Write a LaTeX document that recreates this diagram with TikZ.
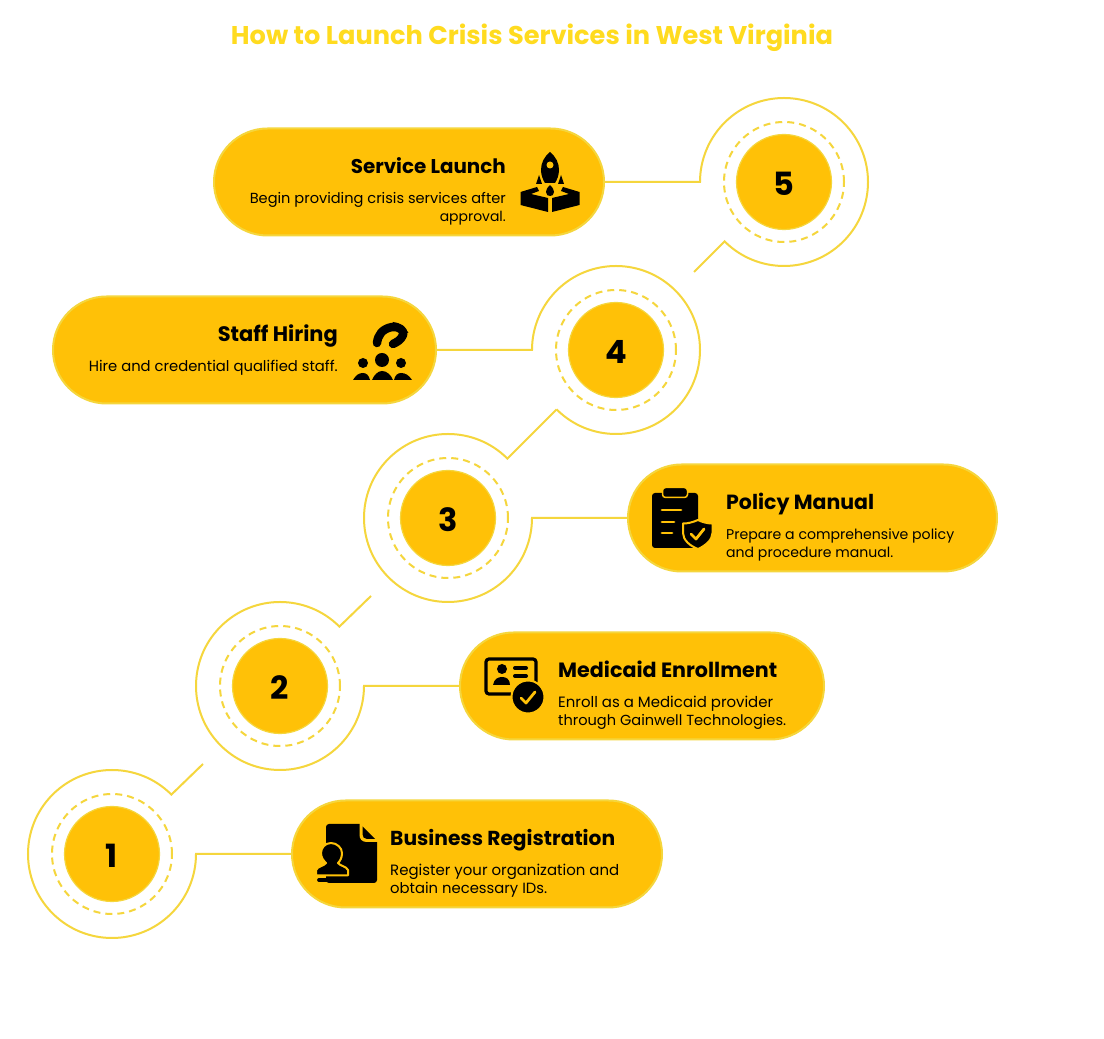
\documentclass[tikz,border=0pt]{standalone}
\usepackage{fontspec}
\usepackage{graphicx}
\setmainfont{Poppins}
\usetikzlibrary{calc}
\definecolor{amber}{HTML}{FFC107}
\definecolor{edge}{HTML}{F5D63D}
\definecolor{titlecol}{HTML}{FFDB1F}
\newcommand{\fitw}[2]{\resizebox{#1pt}{!}{#2}}
\newcommand{\hd}[2]{\fitw{#1}{\fontsize{18}{20}\selectfont\bfseries #2}}
\newcommand{\ds}[2]{\fitw{#1}{\fontsize{14}{16}\selectfont #2}}
\tikzset{
  x=1pt,y=1pt,
  pill/.style={draw=edge,line width=2pt,fill=amber,rounded corners=53.5pt,minimum height=107pt,inner sep=0pt},
  numdot/.style={circle,draw=edge,line width=1.2pt,fill=amber,minimum size=95pt,inner sep=0pt,text height=27pt,text depth=0pt,font=\fontsize{32}{34}\selectfont\bfseries},
  ring/.style={draw=edge,line width=2pt},
  dashring/.style={draw=edge,line width=2pt,dash pattern=on 7pt off 5pt},
  txt/.style={inner sep=0pt,text=black},
  icon/.style={x=1pt,y=-1pt,yshift=1039pt},
  ink/.style={fill=black,draw=none}
}
\begin{document}
\begin{tikzpicture}
\useasboundingbox (0,0) rectangle (1104,1039);
\fill[white] (0,0) rectangle (1104,1039);
\node[txt,text=titlecol,anchor=base] (title) at (532,994) {\fitw{602}{\fontsize{24}{26}\selectfont\bfseries How to Launch Crisis Services in West Virginia}};

% pills
\node[pill,minimum width=390pt] (p5) at (409,857) {};
\node[pill,minimum width=383pt] (p4) at (244.5,689) {};
\node[pill,minimum width=369pt] (p3) at (812.5,521) {};
\node[pill,minimum width=364pt] (p2) at (642,353) {};
\node[pill,minimum width=370pt] (p1) at (477,185) {};

% number circles
\node[numdot] (c1) at (112,185) {1};
\node[numdot] (c2) at (280,353) {2};
\node[numdot] (c3) at (448,521) {3};
\node[numdot] (c4) at (616,689) {4};
\node[numdot] (c5) at (784,857) {5};
\foreach \n in {1,...,5} \draw[dashring] (c\n) circle[radius=60pt];

% free ends of the diagonals
\coordinate (e1) at (203,275);
\coordinate (e2) at (371,443);
\coordinate (e5) at (694,767);

% rings and connectors
\draw[ring] (e1) -- ($(c1)+(45:84pt)$) arc[start angle=45,end angle=360,radius=84pt] -- (p1.west);
\draw[ring] (e2) -- ($(c2)+(45:84pt)$) arc[start angle=45,end angle=360,radius=84pt] -- (p2.west);
\draw[ring] ($(c4)+(225:84pt)$) -- ($(c3)+(45:84pt)$) arc[start angle=45,end angle=360,radius=84pt] -- (p3.west);
\draw[ring] ($(c4)+(225:84pt)$) arc[start angle=225,end angle=540,radius=84pt] -- (p4.east);
\draw[ring] (e5) -- ($(c5)+(225:84pt)$) arc[start angle=225,end angle=540,radius=84pt] -- (p5.east);

% texts
\node[txt,anchor=base east] (h5) at (506,865) {\hd{155}{Service Launch}};
\node[txt,anchor=base east] (d5a) at (506,835) {\ds{256}{Begin providing crisis services after}};
\node[txt,anchor=base east] (d5b) at (506,817) {\ds{66}{approval.}};
\node[txt,anchor=base east] (h4) at (338,697) {\hd{120}{Staff Hiring}};
\node[txt,anchor=base east] (d4) at (338,667) {\ds{249}{Hire and credential qualified staff.}};
\node[txt,anchor=base west] (h3) at (726,529) {\hd{148}{Policy Manual}};
\node[txt,anchor=base west] (d3a) at (726,499) {\ds{228}{Prepare a comprehensive policy}};
\node[txt,anchor=base west] (d3b) at (726,481) {\ds{167}{and procedure manual.}};
\node[txt,anchor=base west] (h2) at (558,361) {\hd{219}{Medicaid Enrollment}};
\node[txt,anchor=base west] (d2a) at (558,331) {\ds{215}{Enroll as a Medicaid provider}};
\node[txt,anchor=base west] (d2b) at (558,313) {\ds{228}{through Gainwell Technologies.}};
\node[txt,anchor=base west] (h1) at (390,193) {\hd{225}{Business Registration}};
\node[txt,anchor=base west] (d1a) at (390,163) {\ds{229}{Register your organization and}};
\node[txt,anchor=base west] (d1b) at (390,145) {\ds{157}{obtain necessary IDs.}};

% icons, in reference pixels
\begin{scope}[icon]
% rocket
\fill[ink] (550,152) .. controls (544,157) and (541,163) .. (541,170) .. controls (541,175) and (543,180) .. (545,183) -- (555,183) .. controls (557,180) and (559,175) .. (559,170) .. controls (559,163) and (556,157) .. (550,152) -- cycle;
\fill[amber] (550,165) circle[radius=3.5pt];
\fill[ink] (536,184) -- (539,175) -- (542,184) -- cycle;
\fill[ink] (558,184) -- (561,175) -- (564,184) -- cycle;
\fill[ink] (550,185) .. controls (547,188) and (546,190) .. (546,192) .. controls (546,195) and (548,196) .. (550,196) .. controls (552,196) and (554,195) .. (554,192) .. controls (554,190) and (553,188) .. (550,185) -- cycle;
\fill[ink] (520.5,192) -- (537,187) -- (539,191) -- (531,194) -- (548,198) -- (548,212) -- (520.5,205) -- cycle;
\fill[ink] (579.5,192) -- (563,187) -- (561,191) -- (569,194) -- (552,198) -- (552,212) -- (579.5,205) -- cycle;
% staff
\draw[black,line width=8.5pt,line cap=round,line join=round] (377,343) .. controls (378,335) and (382,329) .. (392,327) .. controls (399,326) and (405,331) .. (403,335) .. controls (401,340) and (397,342) .. (393,344);
\fill[ink] (393,322) .. controls (399,322) and (406,328) .. (408.5,333) -- (400,331) -- (390,329) -- cycle;
\fill[ink] (382,360) circle[radius=7pt];
\fill[ink] (363,363) circle[radius=5pt];
\fill[ink] (401,363) circle[radius=5pt];
\fill[ink] (372,380) .. controls (374,375) and (378,371) .. (382,371) .. controls (387,371) and (391,375) .. (393,380) -- cycle;
\fill[ink] (353,380) .. controls (356,375) and (359,373) .. (363,373) .. controls (366,373) and (369,375) .. (370,380) -- cycle;
\fill[ink] (394,380) .. controls (395,375) and (398,373) .. (401,373) .. controls (405,373) and (409,375) .. (412,380) -- cycle;
% clipboard
\fill[ink,rounded corners=3pt] (652,493) rectangle (698,548);
\draw[fill=black,draw=amber,line width=1.5pt,rounded corners=3pt] (662.5,487.5) rectangle (687.5,497.5);
\draw[amber,line width=2.8pt,line cap=round] (662,510) -- (681,510) (662,522) -- (674,522) (662,533) -- (672,533);
\draw[fill=black,draw=amber,line width=2pt,line join=round] (698,520) .. controls (692,522.5) and (688,523.5) .. (683,523.5) -- (683,533) .. controls (683,540) and (690,546) .. (698,549) .. controls (705,546) and (712.5,540) .. (712.5,533) -- (712.5,523.5) .. controls (708,523.5) and (703,522.5) .. (698,520) -- cycle;
\draw[amber,line width=2.8pt,line cap=round,line join=round] (691,534) -- (696,539) -- (704,529);
% id card
\draw[black,line width=3.2pt,rounded corners=3pt] (486,659) rectangle (536,694);
\fill[ink] (502,669) circle[radius=5pt];
\fill[ink] (493,685) .. controls (494,679) and (498,677) .. (502,677) .. controls (506,677) and (510,679) .. (510,685) -- cycle;
\draw[black,line width=4pt,line cap=round] (515,668) -- (526,668) (515,676) -- (526,676);
\draw[fill=black,draw=amber,line width=2pt] (528,697) circle[radius=16.5pt];
\draw[amber,line width=2.8pt,line cap=round,line join=round] (521,698) -- (526,703) -- (535,692);
% document and stamp
\fill[ink,rounded corners=3pt] (326,824) -- (377,824) -- (377,883) -- (326,883) -- cycle;
\fill[amber] (359.5,823) -- (378,823) -- (378,842) -- (367,842) .. controls (362,842) and (359.5,839) .. (359.5,835) -- cycle;
\fill[ink] (362.5,826.5) -- (375,839) -- (367,839) .. controls (364,839) and (362.5,837) .. (362.5,834) -- cycle;
\draw[fill=black,draw=amber,line width=2pt,line join=round] (331,843) .. controls (325,843) and (321,848) .. (321,853) .. controls (321,858) and (324,861) .. (326,863) .. controls (324,866) and (318,866) .. (316,870) -- (316,875.5) -- (348,875.5) -- (348,870) .. controls (346,866) and (340,866) .. (338,863) .. controls (340,861) and (342,858) .. (342,853) .. controls (342,848) and (337,843) .. (331,843) -- cycle;
\draw[black,line width=3.8pt,line cap=round] (319,880) -- (345,880);
\end{scope}
\end{tikzpicture}
\end{document}
